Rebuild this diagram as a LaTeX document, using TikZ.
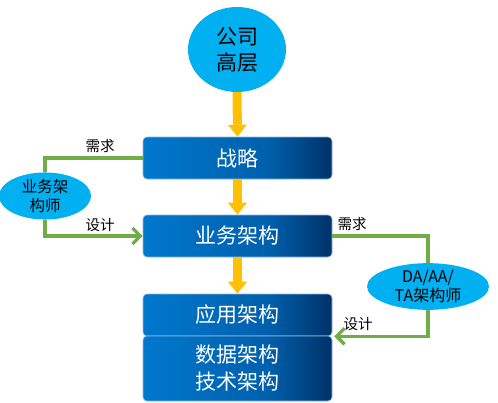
\documentclass[tikz,border=0pt]{standalone}
\usepackage{fontspec}
\setmainfont{Noto Sans CJK SC}
\usetikzlibrary{arrows.meta,shapes.geometric}
\definecolor{bA}{RGB}{0,120,205}
\definecolor{bB}{RGB}{0,96,172}
\definecolor{bC}{RGB}{0,50,105}
\definecolor{sky}{RGB}{0,176,240}
\definecolor{ylw}{RGB}{255,192,0}
\definecolor{grn}{RGB}{112,173,71}
\definecolor{edge}{RGB}{140,185,230}
\pgfdeclarehorizontalshading{boxsh}{100bp}{color(0bp)=(bA); color(25bp)=(bA); color(58bp)=(bB); color(75bp)=(bC); color(100bp)=(bC)}
\tikzset{
  archbox/.style={rectangle, rounded corners=4pt, shading=boxsh, draw=edge, line width=0.6pt,
    minimum width=189pt, inner sep=0pt, text=white, align=center,
    font=\fontsize{21}{27}\selectfont},
  bubble/.style={ellipse, fill=sky, inner sep=0pt, align=center, text=black},
  flow/.style={ylw, line width=9pt, -{Triangle[length=12pt 0 0, width=19pt 0 0, line width=0pt 0 0]}},
  feed/.style={grn, line width=3.2pt},
  feedarrow/.style={feed, -{Straight Barb[length=8pt 0 0, width=16pt 0 0]}},
  lbl/.style={font=\fontsize{14.5}{16}\selectfont, text=black, inner sep=0pt}
}
\begin{document}
\begin{tikzpicture}[x=1pt,y=-1pt]
\useasboundingbox (0,0) rectangle (498,402);
\node[bubble, minimum width=98pt, minimum height=85pt, font=\fontsize{21}{26}\selectfont] (top) at (237,49.5) {公司\\高层};
\node[archbox, minimum height=42pt] (zl) at (237.5,158) {战略};
\node[archbox, minimum height=42pt] (yw) at (237.5,236) {业务架构};
\node[archbox, minimum height=42pt] (yy) at (237.5,315) {应用架构};
\node[archbox, minimum height=65pt] (sj) at (237.5,368.5) {数据架构\\技术架构};
\node[bubble, minimum width=92pt, minimum height=38pt, font=\fontsize{15.5}{19}\selectfont] (lb) at (45,196) {业务架\\构师};
\node[bubble, minimum width=122pt, minimum height=43pt, font=\fontsize{16}{19}\selectfont] (rb) at (428,286.5) {DA/AA/\\TA架构师};
\draw[flow] (top.south) -- (zl.north);
\draw[flow] (zl.south) -- (yw.north);
\draw[flow] (yw.south) -- (yy.north);
\coordinate (rin) at ([xshift=2pt]yy.south east);
\draw[feed] (zl.west) -| (lb.north);
\draw[feedarrow] (lb.south) |- (yw.west);
\draw[feed] (yw.east) -| (rb.north);
\draw[feedarrow] (rb.south) |- (rin);
\node[lbl] (l1) at (100,146) {需求};
\node[lbl] (l2) at (100,225) {设计};
\node[lbl] (l3) at (352,224) {需求};
\node[lbl] (l4) at (358,324) {设计};
\end{tikzpicture}
\end{document}
